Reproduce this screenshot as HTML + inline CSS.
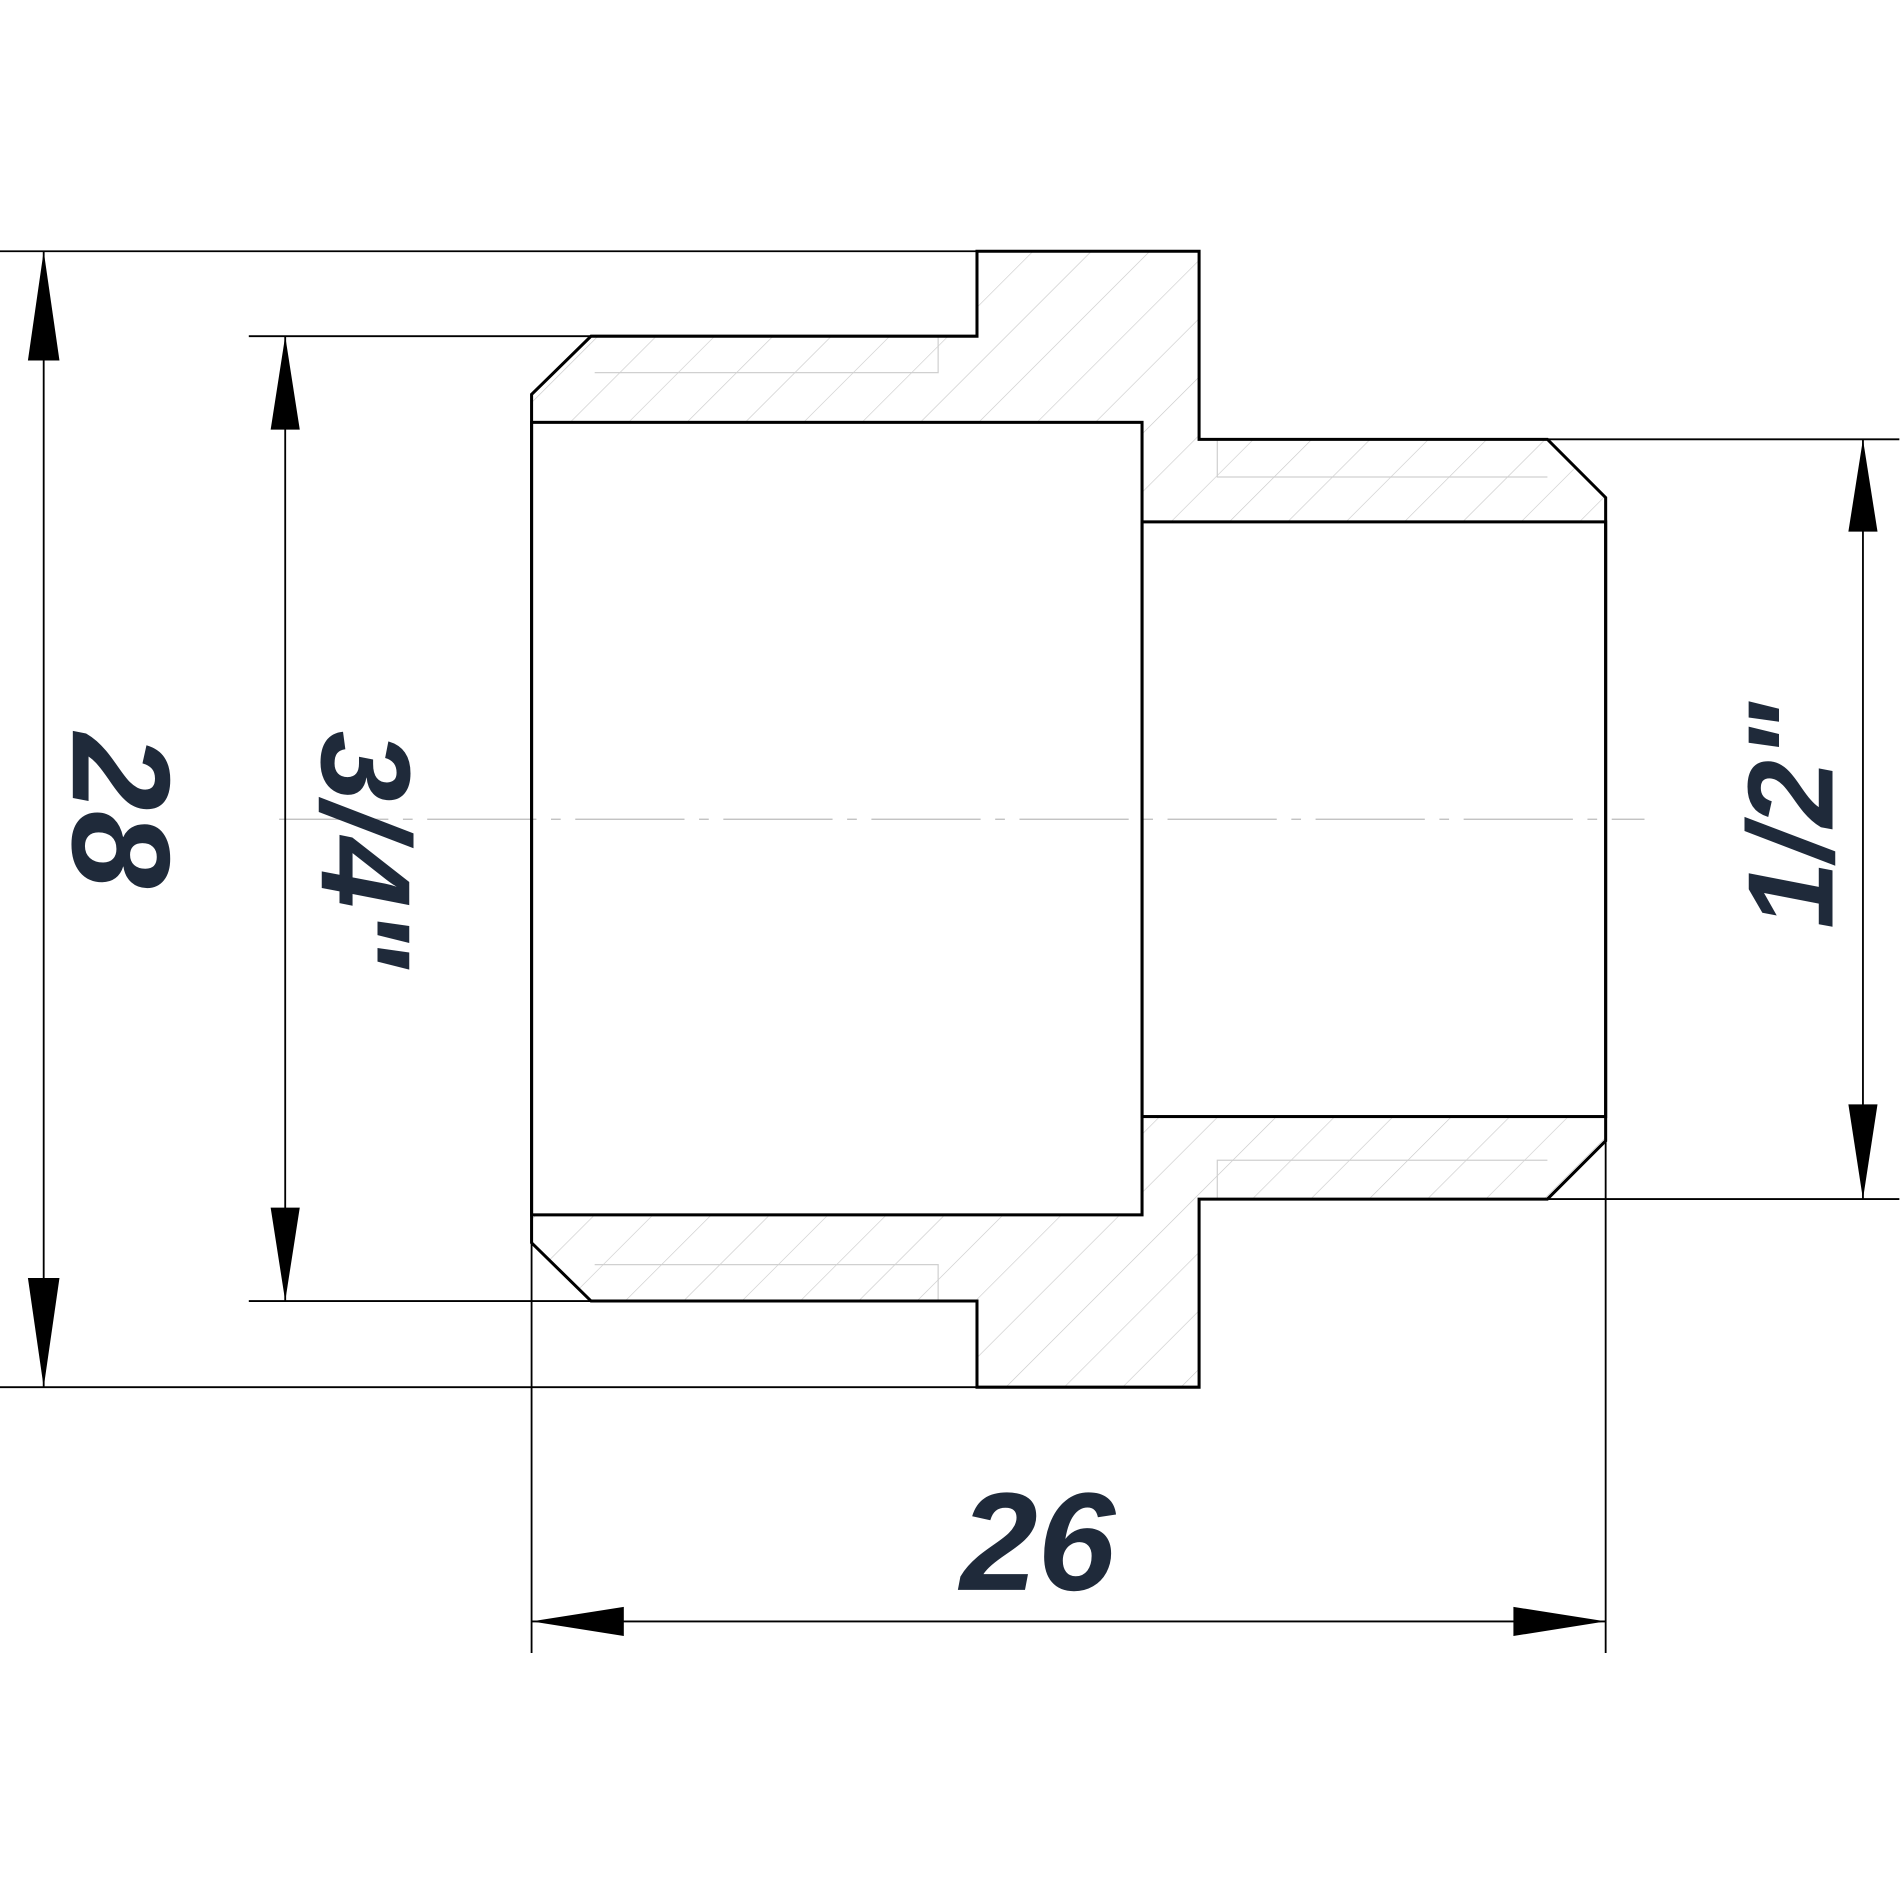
<!DOCTYPE html>
<html><head><meta charset="utf-8"><style>html,body{margin:0;padding:0;background:#fff}svg{display:block}</style></head>
<body>
<svg width="1903" height="1903" viewBox="0 0 1568 1568" xmlns="http://www.w3.org/2000/svg">
<defs>
<pattern id="h" patternUnits="userSpaceOnUse" width="34" height="34" patternTransform="rotate(45)">
<line x1="0" y1="0" x2="0" y2="34" stroke="#c8c8c8" stroke-width="1"/>
</pattern>
</defs>
<rect width="1568" height="1568" fill="#fff"/>
<path d="M805,207 L988,207 L988,362 L1275,362 L1323,410 L1323,430 L941,430 L941,348 L438,348 L438,325 L487,277 L805,277 Z" fill="url(#h)"/>
<path d="M805,1143 L988,1143 L988,988 L1275,988 L1323,940 L1323,920 L941,920 L941,1001 L438,1001 L438,1024 L487,1072 L805,1072 Z" fill="url(#h)"/>
<g stroke="#d0d0d0" stroke-width="1" fill="none">
<path d="M490,307 L773,307 L773,277"/><path d="M490,1042 L773,1042 L773,1072"/>
<path d="M1003,362 L1003,393 L1275,393"/><path d="M1003,988 L1003,956 L1275,956"/>
</g>
<line x1="230" y1="675" x2="1355" y2="675" stroke="#bbb" stroke-width="1" stroke-dasharray="90,12,8,12"/>
<g stroke="#000" stroke-width="2.5" fill="none">
<path d="M805,207 L988,207 L988,362 L1275,362 L1323,410 L1323,940 L1275,988 L988,988 L988,1143 L805,1143 L805,1072 L487,1072 L438,1024 L438,325 L487,277 L805,277 Z"/>
<rect x="438" y="348" width="503" height="653"/>
<rect x="941" y="430" width="382" height="490"/>
</g>
<g stroke="#000" stroke-width="1.5" fill="none">
<line x1="0" y1="207" x2="805" y2="207"/>
<line x1="0" y1="1143" x2="805" y2="1143"/>
<line x1="36" y1="207" x2="36" y2="1143"/>
<line x1="205" y1="277" x2="487" y2="277"/>
<line x1="205" y1="1072" x2="487" y2="1072"/>
<line x1="235" y1="277" x2="235" y2="1072"/>
<line x1="1275" y1="362" x2="1565" y2="362"/>
<line x1="1275" y1="988" x2="1565" y2="988"/>
<line x1="1535" y1="362" x2="1535" y2="988"/>
<line x1="438" y1="1001" x2="438" y2="1362"/>
<line x1="1323" y1="940" x2="1323" y2="1362"/>
<line x1="438" y1="1336" x2="1323" y2="1336"/>
</g>
<g fill="#000">
<polygon points="36,207 23,297 49,297"/><polygon points="36,1143 23,1053 49,1053"/>
<polygon points="235,277 223,354 247,354"/><polygon points="235,1072 223,995 247,995"/>
<polygon points="1535,362 1523,438 1547,438"/><polygon points="1535,988 1523,910 1547,910"/>
<polygon points="438,1336 514,1324 514,1348"/><polygon points="1323,1336 1247,1324 1247,1348"/>
</g>
<g fill="#1f2a3a" font-family="Liberation Sans, sans-serif" font-weight="bold" font-style="italic">
<text x="0" y="0" font-size="115" text-anchor="middle" transform="translate(60,668) rotate(90)">28</text>
<text x="0" y="0" font-size="105" text-anchor="middle" transform="translate(265,700) rotate(90)">3/4"</text>
<text x="0" y="0" font-size="100" text-anchor="middle" transform="translate(1510,672) rotate(-90)">1/2"</text>
<text x="855" y="1310" font-size="115" text-anchor="middle">26</text>
</g>
</svg>
</body></html>
